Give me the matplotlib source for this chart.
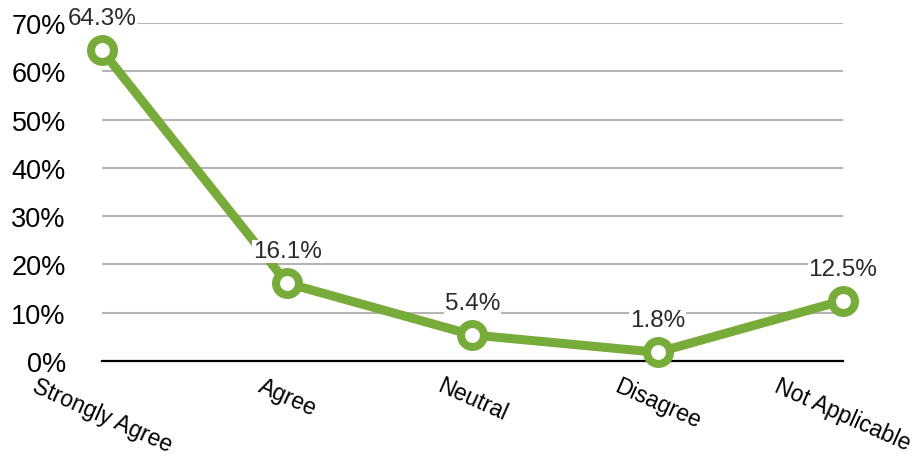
import matplotlib.pyplot as plt

plt.rcParams['font.family'] = ['Liberation Sans', 'DejaVu Sans']

categories = ["Strongly Agree", "Agree", "Neutral", "Disagree", "Not Applicable"]
values = [64.3, 16.1, 5.4, 1.8, 12.5]
yticks = [0, 10, 20, 30, 40, 50, 60, 70]

green = '#77ac3a'

fig = plt.figure(figsize=(9.13, 4.6), dpi=100)
ax = fig.add_axes([0.1117, 0.213, 0.8113, 0.735])

x = list(range(len(categories)))
ax.plot(x, values, color=green, lw=6.5, marker='o', ms=16.5, mew=5.8,
        mfc='white', mec=green, clip_on=False, zorder=3)

for xi, v in zip(x, values):
    ax.annotate('{0:.1f}%'.format(v), (xi, v), xytext=(0, 18.7),
                textcoords='offset points', ha='center', va='baseline',
                fontsize=17.5, color='#2a2a2a', zorder=4,
                bbox=dict(facecolor='white', edgecolor='none', pad=0.5))

ax.set_xlim(0, len(categories) - 1)
ax.set_ylim(0, 70)
ax.set_yticks(yticks)
ax.set_yticklabels(['{0}%'.format(t) for t in yticks], fontsize=19.5)
ax.set_xticks(x)
ax.set_xticklabels(categories, fontsize=16.5, rotation=-24, ha='center', va='top')
ax.tick_params(axis='both', length=0)
ax.tick_params(axis='y', pad=26)
ax.tick_params(axis='x', pad=9)
for lab in ax.get_yticklabels():
    lab.set_horizontalalignment('right')

ax.grid(axis='y', color='#b5b5b5', lw=1.5)
ax.set_axisbelow(True)
for s in ['left', 'right', 'top']:
    ax.spines[s].set_visible(False)
ax.spines['bottom'].set_color('black')
ax.spines['bottom'].set_linewidth(1.6)
ax.spines['bottom'].set_zorder(2.5)

fig.savefig('out.png', dpi=100)
